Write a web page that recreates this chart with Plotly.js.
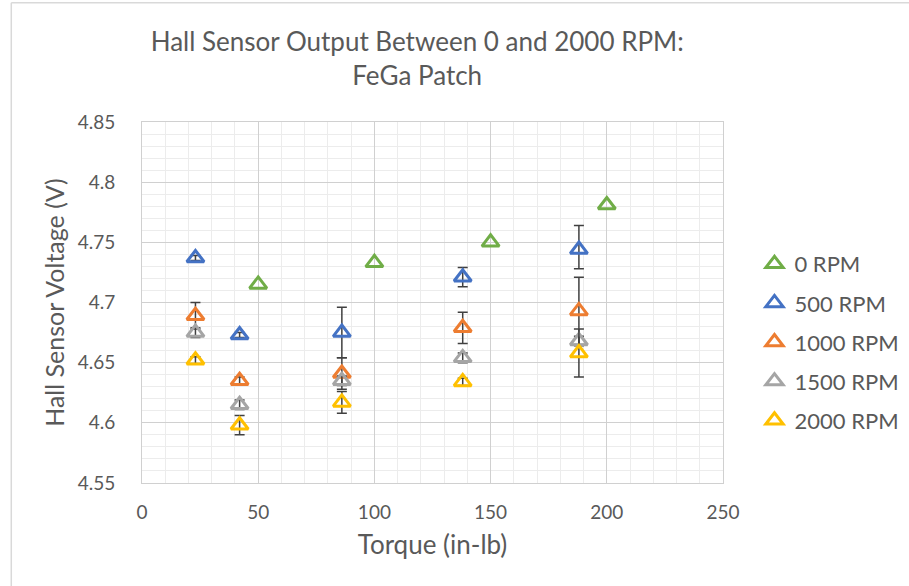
<!DOCTYPE html>
<html>
<head>
<meta charset="utf-8">
<script src="https://cdn.plot.ly/plotly-3.0.1.min.js"></script>
<style>
  html, body { margin: 0; padding: 0; background: #ffffff; }
  #chart { width: 909px; height: 586px; }
</style>
</head>
<body>
<div id="chart"></div>
<script>
// Series names and colours
const seriesNames = ["0 RPM", "500 RPM", "1000 RPM", "1500 RPM", "2000 RPM"];
const seriesColors = ["#70AD47", "#4472C4", "#ED7D31", "#A5A5A5", "#FFC000"];

// Torque values (in-lb)
const torque0 = [50, 100, 150, 200];
const torqueLoaded = [23, 42, 86, 138, 188];

// Hall sensor voltage (V)
const volt0    = [4.715, 4.733, 4.750, 4.781];
const volt500  = [4.737, 4.673, 4.675, 4.721, 4.744];
const volt1000 = [4.689, 4.635, 4.641, 4.679, 4.693];
const volt1500 = [4.675, 4.615, 4.635, 4.654, 4.668];
const volt2000 = [4.652, 4.598, 4.617, 4.634, 4.658];

// Error bars (V): plus / minus
const err0         = [0, 0, 0, 0];
const err500Plus   = [0.002, 0.002, 0.021, 0.008, 0.020];
const err500Minus  = [0.002, 0.002, 0.021, 0.008, 0.016];
const err1000      = [0.011, 0.003, 0.013, 0.013, 0.028];
const err1500      = [0.004, 0.004, 0.004, 0.004, 0.004];
const err2000      = [0.003, 0.008, 0.009, 0.003, 0.020];

// Axis ticks
const xTicks = [0, 50, 100, 150, 200, 250];
const xTickText = ["0", "50", "100", "150", "200", "250"];
const yTicks = [4.55, 4.6, 4.65, 4.7, 4.75, 4.8, 4.85];
const yTickText = ["4.55", "4.6", "4.65", "4.7", "4.75", "4.8", "4.85"];

const FONT = "Lato, 'Open Sans', sans-serif";
const TXT = "#595959";

const xs = [torque0, torqueLoaded, torqueLoaded, torqueLoaded, torqueLoaded];
const ys = [volt0, volt500, volt1000, volt1500, volt2000];
const eplus = [err0, err500Plus, err1000, err1500, err2000];
const eminus = [err0, err500Minus, err1000, err1500, err2000];

const traces = seriesNames.map((name, i) => ({
  type: "scatter",
  mode: "markers",
  name: name,
  legendgroup: "g" + i,
  x: xs[i],
  y: ys[i],
  marker: {
    symbol: "triangle-up-open",
    size: 15,
    color: seriesColors[i],
    line: { color: seriesColors[i], width: 3 }
  },
  error_y: {
    type: "data",
    symmetric: false,
    array: eplus[i],
    arrayminus: eminus[i],
    visible: i > 0,
    color: "#404040",
    thickness: 1.5,
    width: 5
  }
}));

const layout = {
  width: 909,
  height: 586,
  paper_bgcolor: "#ffffff",
  plot_bgcolor: "#ffffff",
  margin: { l: 142, r: 186, t: 122, b: 103, pad: 0, autoexpand: false },
  font: { family: FONT, color: TXT },
  title: {
    text: "Hall Sensor Output Between 0 and 2000 RPM:<br>FeGa Patch",
    font: { family: FONT, size: 26, color: TXT },
    xref: "container",
    x: 0.459,
    xanchor: "center",
    yref: "container",
    y: 0.913,
    yanchor: "top"
  },
  xaxis: {
    range: [0, 250],
    tickvals: xTicks,
    ticktext: xTickText,
    tickfont: { family: FONT, size: 19, color: TXT },
    ticks: "",
    ticklabelstandoff: 12,
    showgrid: true,
    gridcolor: "#d0d0d0",
    gridwidth: 1,
    minor: { dtick: 10, showgrid: true, gridcolor: "#ececec", gridwidth: 1 },
    zeroline: false,
    showline: true,
    linecolor: "#d0d0d0",
    mirror: true,
    automargin: false,
    title: { text: "Torque (in-lb)", font: { family: FONT, size: 26, color: TXT }, standoff: 14 }
  },
  yaxis: {
    range: [4.55, 4.85],
    tickvals: yTicks,
    ticktext: yTickText,
    tickfont: { family: FONT, size: 19, color: TXT },
    ticks: "",
    ticklabelstandoff: 22,
    showgrid: true,
    gridcolor: "#d0d0d0",
    gridwidth: 1,
    minor: { dtick: 0.01, showgrid: true, gridcolor: "#ececec", gridwidth: 1 },
    zeroline: false,
    showline: true,
    linecolor: "#d0d0d0",
    mirror: true,
    automargin: false,
    title: { text: "Hall Sensor Voltage (V)", font: { family: FONT, size: 25, color: TXT }, standoff: 5 }
  },
  legend: {
    xref: "container",
    yref: "container",
    x: 0.830,
    xanchor: "left",
    y: 0.5853,
    yanchor: "top",
    traceorder: "grouped",
    tracegroupgap: 7.5,
    font: { family: FONT, size: 22, color: TXT },
    bgcolor: "rgba(0,0,0,0)",
    itemwidth: 30
  },
  showlegend: true,
  shapes: [
    { type: "line", xref: "paper", yref: "paper", x0: -0.225, x1: -0.225, y0: -0.3, y1: 1.33,
      line: { color: "#d9d9d9", width: 1.5 } },
    { type: "line", xref: "paper", yref: "paper", x0: -0.225, x1: 1.4, y0: 1.33, y1: 1.33,
      line: { color: "#d9d9d9", width: 1.5 } }
  ]
};

Plotly.newPlot("chart", traces, layout, { displayModeBar: false, staticPlot: true });
</script>
</body>
</html>
